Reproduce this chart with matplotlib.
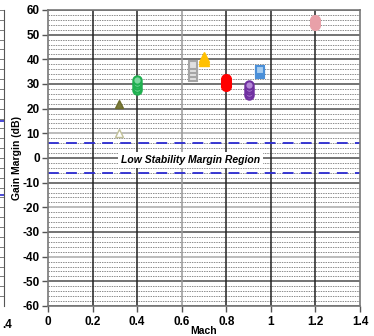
import matplotlib.pyplot as plt
import numpy as np
from matplotlib import rcParams

rcParams['font.family'] = ['Liberation Sans', 'DejaVu Sans']

# %% data
mach_ticks = [0, 0.2, 0.4, 0.6, 0.8, 1, 1.2, 1.4]
mach_tick_labels = ['0', '0.2', '0.4', '0.6', '0.8', '1', '1.2', '1.4']
gm_ticks = [-60, -50, -40, -30, -20, -10, 0, 10, 20, 30, 40, 50, 60]

low_margin = [6, -6]

olive_mach = [0.32]
olive_gm = [22]
pale_mach = [0.32]
pale_gm = [10]
green_mach = [0.4, 0.4, 0.4, 0.4, 0.4]
green_gm = [27.5, 28.5, 29.5, 30.5, 31.5]
gray_mach = [0.65, 0.65, 0.65, 0.65]
gray_gm = [33, 34.5, 36, 37.5]
yellow_mach = [0.7, 0.7, 0.7]
yellow_gm = [39.3, 40.0, 40.8]
red_mach = [0.8, 0.8, 0.8, 0.8]
red_gm = [29, 30, 31, 32]
purple_mach = [0.9, 0.9, 0.9, 0.9, 0.9]
purple_gm = [25.5, 26.5, 27.5, 28.5, 29.5]
blue_mach = [0.95, 0.95, 0.95]
blue_gm = [34, 35, 35.8]
pink_mach = [1.2, 1.2, 1.2]
pink_gm = [54, 55, 56]

# %% figure
fig = plt.figure(figsize=(3.74, 3.36), dpi=100)

# sliver of the neighbouring chart on the left
ax0 = fig.add_axes([-0.6, 0.0893, 0.6 + 4 / 374, 0.8810])
ax0.set_xlim(0, 1.4)
ax0.set_ylim(-60, 60)
for y in np.arange(-60, 61, 4):
    ax0.axhline(y, color='#666666', lw=0.6)
for y in [15, -15]:
    ax0.axhline(y, color='#2a2ad0', lw=1.2, ls=(0, (6, 4)))
ax0.set_xticks([])
ax0.set_yticks([])
# only the tail of the neighbour's last tick label is visible
fig.text(2 / 374, 1 - 325 / 336, '.4', ha='left', va='center',
         fontsize=8.5, fontweight='bold')
for s in ['top', 'left', 'bottom']:
    ax0.spines[s].set_visible(False)
ax0.spines['right'].set_color('#555555')

# main chart
ax = fig.add_axes([48 / 374, 0.0893, 312 / 374, 0.8810])
ax.set_xlim(0, 1.4)
ax.set_ylim(-60, 60)

for y in np.arange(-60, 61, 2):
    if y % 10 != 0:
        ax.axhline(y, color='#8c8c8c', lw=0.7, ls=(0, (1.5, 1)), zorder=1)
for y in gm_ticks:
    c = '#aaaaaa' if y in (10, -20, -40) else '#4d4d4d'
    ax.axhline(y, color=c, lw=1.1, zorder=1)
for x in mach_ticks[1:-1]:
    c = '#999999' if x == 0.6 else '#222222'
    ax.axvline(x, color=c, lw=1.1, zorder=1)

for y in low_margin:
    ax.axhline(y, color='#2a2ad0', lw=1.3, ls=(0, (6, 4)), zorder=2)

ax.text(0.64, -0.8, 'Low Stability Margin Region', ha='center', va='center',
        fontsize=7.5, fontweight='bold', fontstyle='italic', zorder=3,
        bbox=dict(facecolor='white', edgecolor='none', pad=2))

ax.plot(pale_mach, pale_gm, '^', ms=6, mfc='white', mec='#c2c29a', mew=1, ls='none', zorder=4)
ax.plot(olive_mach, olive_gm, '^', ms=6, mfc='#7a7a3a', mec='#6b6b2a', mew=1, ls='none', zorder=4)
ax.plot(green_mach, green_gm, 'o', ms=6, mfc='#7fd8a0', mec='#20b050', mew=1.5, ls='none', zorder=4)
ax.plot(gray_mach, gray_gm, 's', ms=6, mfc='#e0e0e0', mec='#a6a6a6', mew=1.5, ls='none', zorder=4)
ax.plot(yellow_mach, yellow_gm, '^', ms=7, mfc='#ffc000', mec='#ffc000', mew=1, ls='none', zorder=4)
ax.plot(red_mach, red_gm, 'o', ms=7, mfc='#ff0000', mec='#ff0000', mew=1, ls='none', zorder=4)
ax.plot(purple_mach, purple_gm, 'o', ms=6, mfc='#b58ad6', mec='#7030a0', mew=1.5, ls='none', zorder=4)
ax.plot(blue_mach, blue_gm, 's', ms=6, mfc='#a8cdf0', mec='#4a8fd8', mew=1.5, ls='none', zorder=4)
ax.plot(pink_mach, pink_gm, 'o', ms=7, mfc='#e8a0a8', mec='#e8a0a8', mew=1, ls='none', zorder=4)

ax.set_xticks(mach_ticks)
ax.set_xticklabels(mach_tick_labels, fontsize=8.5, fontweight='bold')
ax.set_yticks(gm_ticks)
ax.set_yticklabels([str(v) for v in gm_ticks], fontsize=8.5, fontweight='bold')
ax.tick_params(axis='both', length=4, width=1, color='#555555', pad=2)
ax.tick_params(axis='x', pad=3)

ax.set_xlabel('Mach', fontsize=7.5, fontweight='bold', labelpad=-1)
ax.set_ylabel('Gain Margin (dB)', fontsize=7.5, fontweight='bold', labelpad=0.5)

for s in ax.spines.values():
    s.set_color('#777777')
    s.set_linewidth(1.2)

plt.savefig('out.png', dpi=100)
